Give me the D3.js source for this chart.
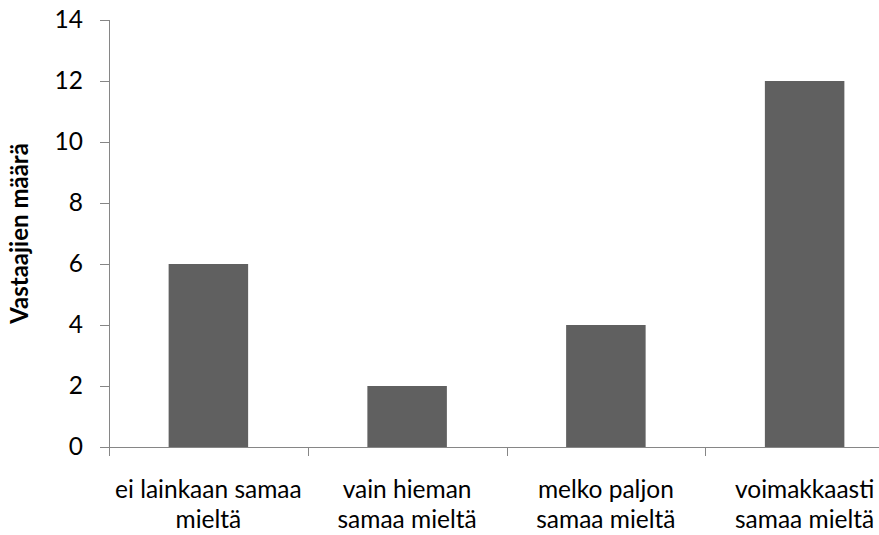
<!DOCTYPE html>
<html>
<head>
<meta charset="utf-8">
<script src="https://cdn.jsdelivr.net/npm/d3@7"></script>
<style>
  html, body { margin: 0; padding: 0; background: #fff; }
  svg { display: block; }
  text { font-family: Lato, "Open Sans", sans-serif; fill: #000; }
</style>
</head>
<body>
<svg id="chart" width="879" height="535"></svg>
<script>
// Responses per agreement level
const categories = [
  ["ei lainkaan samaa", "mieltä"],
  ["vain hieman", "samaa mieltä"],
  ["melko paljon", "samaa mieltä"],
  ["voimakkaasti", "samaa mieltä"]
];
const counts = [6, 2, 4, 12];
const yTicks = [0, 2, 4, 6, 8, 10, 12, 14];
const yTitle = "Vastaajien määrä";

const svg = d3.select("#chart");
const plotLeft = 109, plotRight = 904, plotTop = 20, plotBottom = 447;
const axisColor = "#868686";
const barColor = "#606060";
const labelSize = "24.5px";

const x = d3.scaleBand()
  .domain(d3.range(categories.length))
  .range([plotLeft, plotRight])
  .paddingInner(0.6)
  .paddingOuter(0.3);

const y = d3.scaleLinear().domain([0, 14]).range([plotBottom, plotTop]);

// Bars
svg.append("g").selectAll("rect")
  .data(counts)
  .join("rect")
  .attr("x", (d, i) => x(i))
  .attr("y", d => y(d))
  .attr("width", x.bandwidth())
  .attr("height", d => y(0) - y(d))
  .attr("fill", barColor);

// Y axis
const yAxis = svg.append("g")
  .attr("transform", `translate(${plotLeft},0)`)
  .call(d3.axisLeft(y).tickValues(yTicks).tickSize(9).tickPadding(17).tickSizeOuter(0));
yAxis.select(".domain").attr("stroke", axisColor).attr("d", `M0.5,${plotTop}V${plotBottom}`);
yAxis.selectAll(".tick line").attr("stroke", axisColor);
yAxis.selectAll(".tick text").style("font-size", labelSize).attr("fill", "#000");

// X axis with category boundary ticks
const bandEdge = i => Math.round(plotLeft + i * (plotRight - plotLeft) / categories.length) + 0.5;
const xg = svg.append("g");
xg.append("line")
  .attr("x1", plotLeft).attr("x2", plotRight)
  .attr("y1", plotBottom + 0.5).attr("y2", plotBottom + 0.5)
  .attr("stroke", axisColor);
xg.selectAll(".bound")
  .data(d3.range(categories.length + 1))
  .join("line")
  .attr("class", "bound")
  .attr("x1", bandEdge)
  .attr("x2", bandEdge)
  .attr("y1", plotBottom)
  .attr("y2", plotBottom + 9)
  .attr("stroke", axisColor);

xg.selectAll(".cat")
  .data(categories)
  .join("text")
  .attr("class", "cat")
  .attr("text-anchor", "middle")
  .style("font-size", labelSize)
  .each(function(lines, i) {
    const t = d3.select(this);
    const cx = x(i) + x.bandwidth() / 2;
    lines.forEach((ln, j) => {
      t.append("tspan").attr("x", cx).attr("y", 498 + j * 30).text(ln);
    });
  });

// Y axis title
svg.append("text")
  .attr("transform", `translate(28,${(plotTop + plotBottom) / 2}) rotate(-90)`)
  .attr("text-anchor", "middle")
  .style("font-size", "24px")
  .style("font-weight", "bold")
  .text(yTitle);
</script>
</body>
</html>
